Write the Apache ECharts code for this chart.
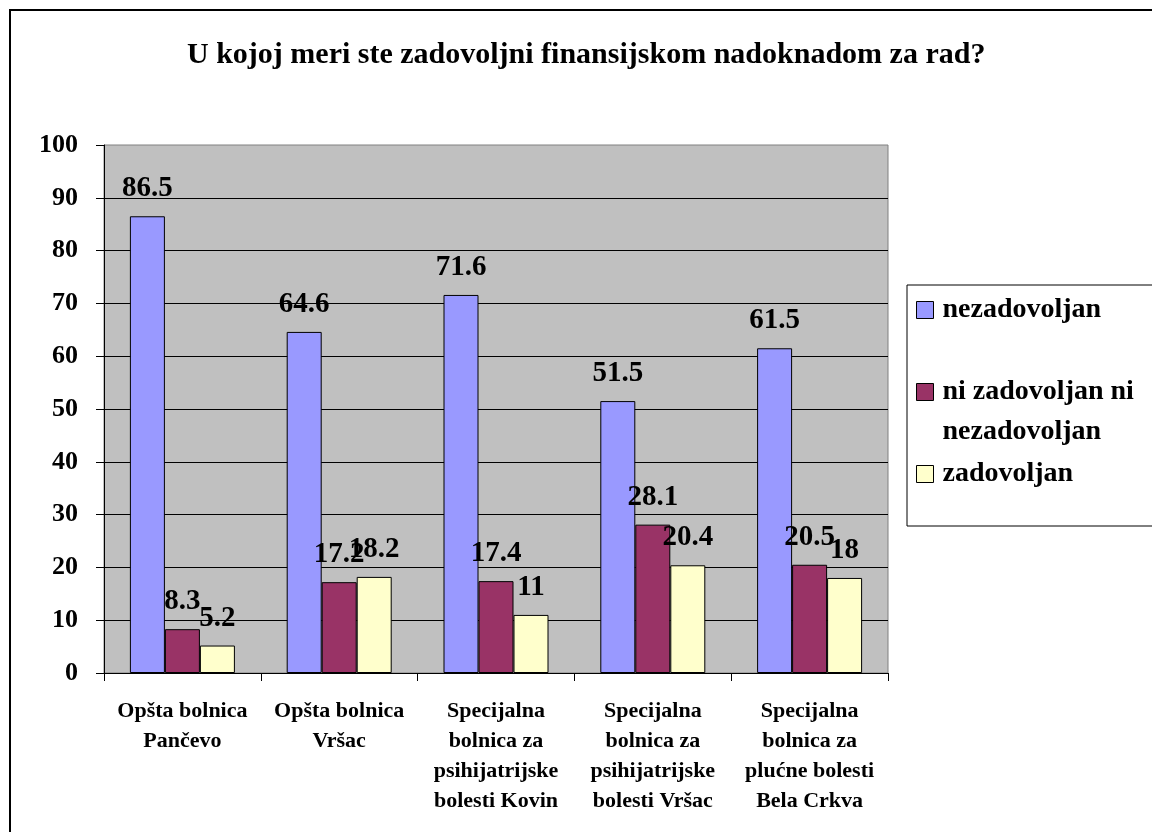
<!DOCTYPE html>
<html>
<head>
<meta charset="utf-8">
<script src="https://cdn.jsdelivr.net/npm/echarts@6/dist/echarts.min.js"></script>
<style>
  html, body { margin: 0; padding: 0; background: #fff; }
  #chart { width: 1152px; height: 832px; }
</style>
</head>
<body>
<div id="chart"></div>
<script>
const titleText = 'U kojoj meri ste zadovoljni finansijskom nadoknadom za rad?';
const categories = [
  'Opšta bolnica\nPančevo',
  'Opšta bolnica\nVršac',
  'Specijalna\nbolnica za\npsihijatrijske\nbolesti Kovin',
  'Specijalna\nbolnica za\npsihijatrijske\nbolesti Vršac',
  'Specijalna\nbolnica za\nplućne bolesti\nBela Crkva'
];
const seriesNames = ['nezadovoljan', 'ni zadovoljan ni nezadovoljan', 'zadovoljan'];
const nezadovoljan = [86.5, 64.6, 71.6, 51.5, 61.5];
const niNi = [8.3, 17.2, 17.4, 28.1, 20.5];
const zadovoljan = [5.2, 18.2, 11, 20.4, 18];
const colors = ['#9999FF', '#993366', '#FFFFCC'];

const font = '"Times New Roman", "Liberation Serif", serif';
const chart = echarts.init(document.getElementById('chart'));

function barSeries(name, data, color) {
  return {
    name: name,
    type: 'bar',
    data: data,
    barWidth: 35,
    barGap: '0%',
    itemStyle: { color: color, borderColor: '#000', borderWidth: 1 },
    label: {
      show: true,
      position: 'top',
      distance: 13,
      color: '#000',
      fontFamily: font,
      fontWeight: 'bold',
      fontSize: 29
    }
  };
}

chart.setOption({
  backgroundColor: '#fff',
  animation: false,
  title: {
    text: titleText,
    left: 187,
    top: 40,
    padding: 0,
    textStyle: { fontFamily: font, fontWeight: 'bold', fontSize: 30, color: '#000' }
  },
  legend: {
    orient: 'vertical',
    left: 907,
    top: 285,
    padding: [5, 60, 32, 9],
    itemGap: 2,
    itemWidth: 17,
    itemHeight: 17,
    borderColor: '#000',
    borderWidth: 1,
    icon: 'rect',
    itemStyle: { borderColor: '#000', borderWidth: 1 },
    // empty first line keeps the icon level with the first text line
    formatter: function (name) {
      return name === seriesNames[1] ? '\nni zadovoljan ni\nnezadovoljan' : name;
    },
    textStyle: {
      fontFamily: font, fontWeight: 'bold', fontSize: 28, color: '#000',
      lineHeight: 40, padding: [0, 0, 0, 4]
    },
    data: seriesNames
  },
  grid: {
    left: 104,
    top: 145,
    right: 264,
    bottom: 159,
    show: true,
    backgroundColor: '#C0C0C0',
    borderColor: '#808080',
    borderWidth: 1
  },
  xAxis: {
    type: 'category',
    data: categories,
    axisLine: { lineStyle: { color: '#000', width: 1 } },
    axisTick: { show: true, length: 8, lineStyle: { color: '#000' } },
    axisLabel: {
      interval: 0,
      margin: 23,
      color: '#000',
      fontFamily: font,
      fontWeight: 'bold',
      fontSize: 22,
      lineHeight: 30
    }
  },
  yAxis: {
    type: 'value',
    min: 0,
    max: 100,
    interval: 10,
    axisLine: { show: true, lineStyle: { color: '#000', width: 1 } },
    axisTick: { show: true, length: 8, lineStyle: { color: '#000' } },
    splitLine: { show: true, showMaxLine: false, lineStyle: { color: '#000', width: 1 } },
    axisLabel: {
      margin: 26,
      color: '#000',
      fontFamily: font,
      fontWeight: 'bold',
      fontSize: 26,
      padding: [6, 0, 0, 0]
    }
  },
  graphic: [{
    type: 'rect',
    shape: { x: 10, y: 10, width: 1200, height: 900 },
    style: { fill: 'none', stroke: '#000', lineWidth: 2 },
    silent: true
  }],
  series: [
    barSeries(seriesNames[0], nezadovoljan, colors[0]),
    barSeries(seriesNames[1], niNi, colors[1]),
    barSeries(seriesNames[2], zadovoljan, colors[2])
  ]
});
</script>
</body>
</html>
